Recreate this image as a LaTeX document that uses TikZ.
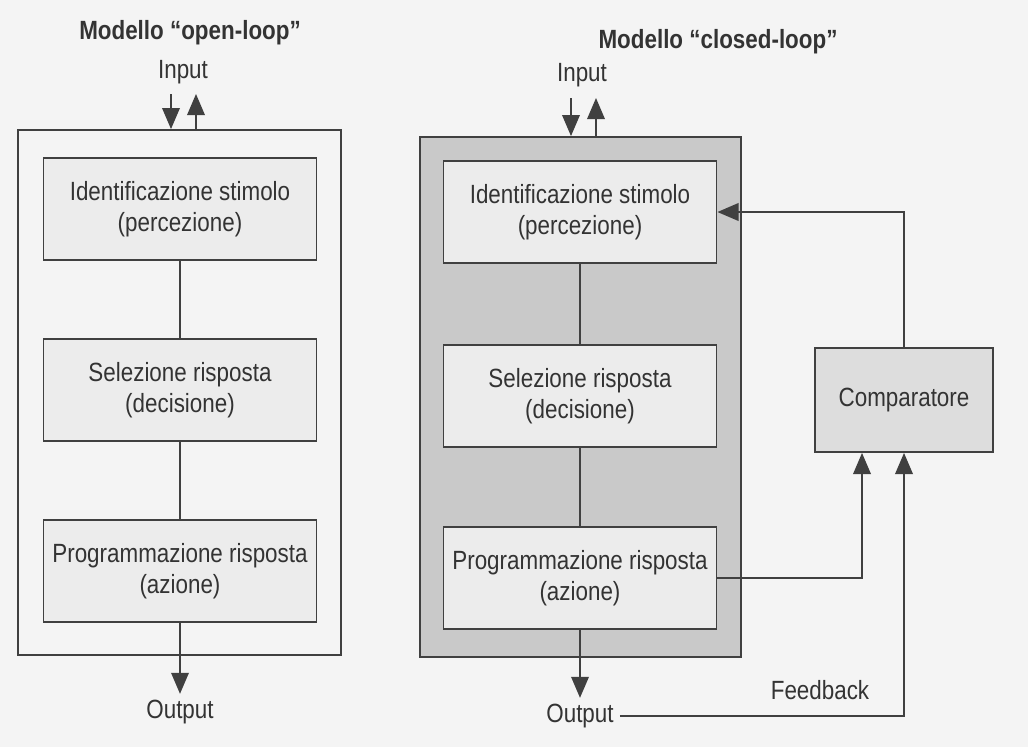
\documentclass[tikz,border=0pt]{standalone}
\usepackage{fontspec}
\setmainfont[FakeStretch=0.85]{Liberation Sans}
\usetikzlibrary{arrows.meta}

\begin{document}
\begin{tikzpicture}[x=0.02cm, y=-0.02cm,
    every node/.style={text=black!80, font=\fontsize{15}{18}\selectfont},
    frame/.style={draw=black!75, line width=1.1pt, inner sep=0pt},
    stage/.style={draw=black!75, line width=1.1pt, fill=gray!15, align=center,
        inner sep=0pt, minimum width=5.46cm, minimum height=2.05cm},
    link/.style={draw=black!75, line width=1pt},
    arr/.style={link, -{Triangle[length=12pt, width=10pt]}},
    title/.style={font=\bfseries\fontsize{15}{18}\selectfont}]
                \fill [gray!9] (0, 0) rectangle (1028, 747);
                \useasboundingbox (0, 0) rectangle (1028, 747);

                % open-loop
                \node [frame, minimum width=6.46cm, minimum height=10.5cm] (frameL) at (179.5, 392.5) {};
                \node [stage] (idL) at (180, 209) {Identificazione stimolo\\(percezione)};
                \node [stage] (selL) at (180, 390) {Selezione risposta\\(decisione)};
                \node [stage] (progL) at (180, 571) {Programmazione risposta\\(azione)};
                \node [title] (titleL) at (190, 33) {Modello “open-loop”};
                \node (inL) at (183, 72) {Input};
                \node (outL) at (180, 712) {Output};
                \coordinate (inLa) at (171, 94);
                \coordinate (inLb) at (196, 94);

                \draw [link] (idL) -- (selL);
                \draw [link] (selL) -- (progL);
                \draw [arr] (inLa) -- (inLa |- frameL.north);
                \draw [arr] (inLb |- frameL.north) -- (inLb);
                \draw [arr] (progL) -- (outL);

                % closed-loop
                \node [frame, fill=gray!42, minimum width=6.42cm, minimum height=10.4cm] (frameR) at (580.5, 397) {};
                \node [stage] (idR) at (580, 212) {Identificazione stimolo\\(percezione)};
                \node [stage] (selR) at (580, 396) {Selezione risposta\\(decisione)};
                \node [stage] (progR) at (580, 578) {Programmazione risposta\\(azione)};
                \node [stage, fill=gray!27, minimum width=3.56cm, minimum height=2.08cm] (comp) at (904, 400) {Comparatore};
                \node [title] (titleR) at (718, 42) {Modello “closed-loop”};
                \node (inR) at (582, 75) {Input};
                \node (outR) at (580, 716) {Output};
                \node (fb) at (820, 690) {Feedback};
                \coordinate (inRa) at (571, 98);
                \coordinate (inRb) at (596, 98);

                \draw [link] (idR) -- (selR);
                \draw [link] (selR) -- (progR);
                \draw [arr] (inRa) -- (inRa |- frameR.north);
                \draw [arr] (inRb |- frameR.north) -- (inRb);
                \draw [arr] (progR) -- (outR);
                \draw [arr] (comp.north) |- (idR.east);
                \draw [arr] (progR.east) -| ([xshift=-0.84cm]comp.south);
                \draw [arr] (outR.east) -| (comp.south);
\end{tikzpicture}
\end{document}
